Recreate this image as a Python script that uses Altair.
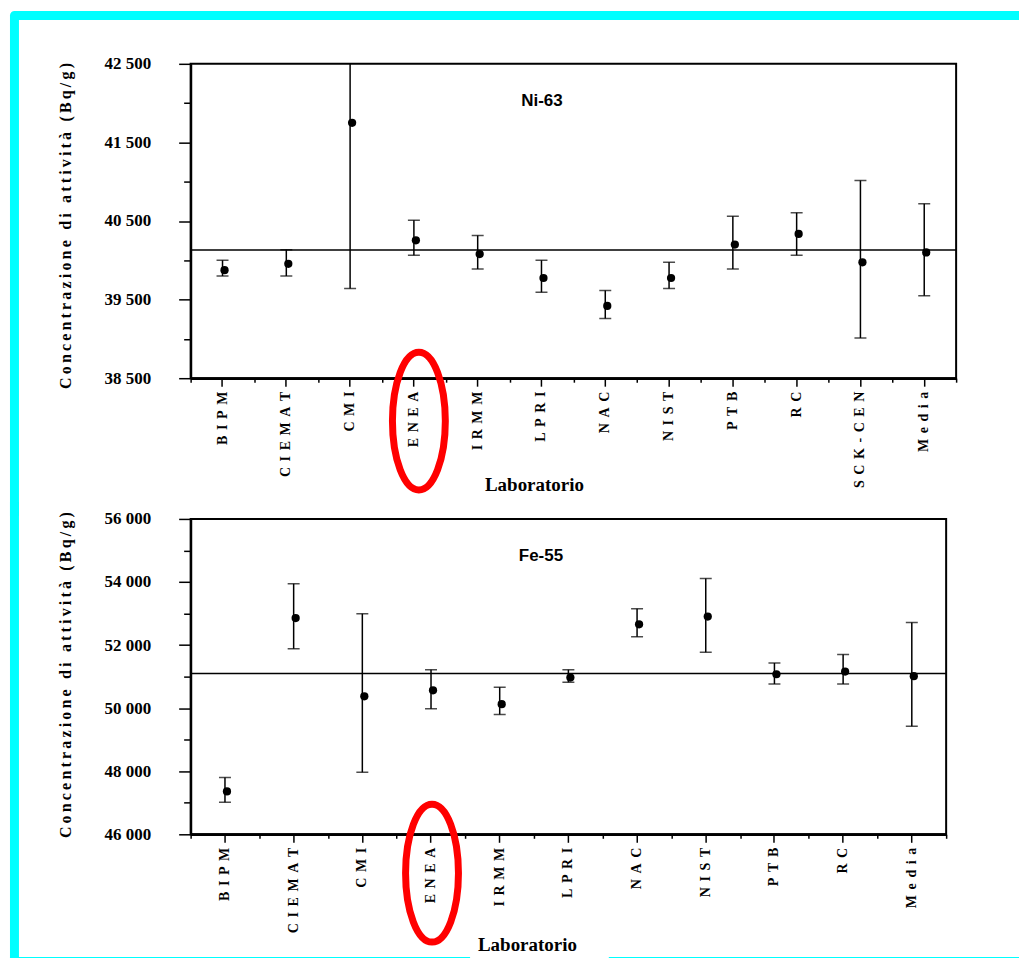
import altair as alt
import pandas as pd

# ---------------- data ----------------
ni_labs = ["BIPM", "CIEMAT", "CMI", "ENEA", "IRMM", "LPRI", "NAC", "NIST", "PTB", "RC", "SCK-CEN", "Media"]
ni_val = [39875, 39955, 41750, 40255, 40080, 39775, 39420, 39775, 40200, 40335, 39975, 40100]
ni_low = [39800, 39800, 39640, 40065, 39890, 39595, 39260, 39640, 39890, 40065, 39010, 39550]
ni_high = [40000, 40135, 42860, 40510, 40315, 40000, 39615, 39975, 40560, 40605, 41015, 40720]
ni_ref = 40130
ni_major = [38500, 39500, 40500, 41500, 42500]
ni_minor = [39000, 40000, 41000, 42000]

fe_labs = ["BIPM", "CIEMAT", "CMI", "ENEA", "IRMM", "LPRI", "NAC", "NIST", "PTB", "RC", "Media"]
fe_val = [47360, 52855, 50375, 50565, 50125, 50970, 52660, 52905, 51075, 51160, 51015]
fe_low = [47020, 51885, 47970, 49980, 49800, 50820, 52265, 51770, 50765, 50765, 49425]
fe_high = [47805, 53945, 52995, 51220, 50660, 51220, 53155, 54110, 51430, 51705, 52715]
fe_ref = 51100
fe_major = [46000, 48000, 50000, 52000, 54000, 56000]
fe_minor = [47000, 49000, 51000, 53000, 55000]

x_title = "Laboratorio"
y_title = "Concentrazione di attività (Bq/g)"

SERIF = "Liberation Serif"
SANS = "Liberation Sans"
CYAN = "#00FFFF"
RED = "#FF0000"
ELLIPSE = "M -0.384 0 A 0.384 1 0 1 0 0.384 0 A 0.384 1 0 1 0 -0.384 0 Z"

y_title_spaced = "\u2009".join(y_title)
one = pd.DataFrame({"k": [0]})


def band(x1, x2, y1, y2, radius=0):
    return alt.Chart(one).mark_rect(color=CYAN, cornerRadiusTopLeft=radius).encode(
        x=alt.value(x1), x2=alt.value(x2), y=alt.value(y1), y2=alt.value(y2))


def panel(labs, val, low, high, ref, dom, major, minor, w, h, tag, tag_xy,
          xt_xy, yt_xy, ell_y, ell_dx, frames):
    df = pd.DataFrame({"lab": labs, "val": val, "low": low, "high": high})
    xs = alt.Scale(type="band", domain=labs, paddingInner=0, paddingOuter=0)
    ys = alt.Scale(domain=dom, nice=False, zero=False)

    x_main = alt.Axis(orient="bottom", title=x_title, labelAngle=270, labelAlign="right",
                      labelBaseline="middle", labelFont=SERIF, labelFontWeight="bold",
                      labelFontSize=14, labelPadding=5,
                      labelExpr="join(split(datum.label, ''), '\u2009\u2009')",
                      tickSize=8, tickWidth=1.5, domainWidth=2.5,
                      titleFont=SERIF, titleFontWeight="bold", titleFontSize=19,
                      titleX=xt_xy[0], titleY=xt_xy[1], titleAlign="center",
                      titleBaseline="alphabetic", titleAngle=0)
    x_minor = alt.Axis(orient="bottom", title=None, labels=False, tickBand="extent",
                       tickSize=4, tickWidth=1.5, domainWidth=2.5)
    y_main = alt.Axis(orient="left", values=major, title=y_title_spaced,
                      labelFont=SERIF, labelFontWeight="bold", labelFontSize=17,
                      labelPadding=28, tickSize=12, tickWidth=1.5, domainWidth=2,
                      labelExpr="replace(format(datum.value, ','), ',', ' ')",
                      titleFont=SERIF, titleFontWeight="bold", titleFontSize=16,
                      titleX=yt_xy[0], titleY=yt_xy[1], titleAngle=270,
                      titleAlign="center", titleBaseline="middle")
    y_minor = alt.Axis(orient="left", values=minor, title=None, labels=False,
                       tickSize=7, tickWidth=1.5, domainWidth=2)

    base = alt.Chart(df)
    refl = alt.Chart(pd.DataFrame({"ref": [ref]})).mark_rule(color="black", strokeWidth=1.5).encode(
        y=alt.Y("ref:Q", scale=ys, axis=None))
    bars = base.mark_rule(color="black", strokeWidth=1.5, clip=True).encode(
        x=alt.X("lab:N", scale=xs, axis=x_minor),
        y=alt.Y("low:Q", scale=ys, axis=y_minor), y2="high:Q")
    cap_lo = base.mark_tick(color="black", size=12, thickness=1.5, orient="horizontal", clip=True).encode(
        x=alt.X("lab:N", scale=xs, axis=None), y=alt.Y("low:Q", scale=ys, axis=None))
    cap_hi = base.mark_tick(color="black", size=12, thickness=1.5, orient="horizontal", clip=True).encode(
        x=alt.X("lab:N", scale=xs, axis=None), y=alt.Y("high:Q", scale=ys, axis=None))
    pts = base.mark_circle(size=68, color="black", opacity=1, xOffset=2).encode(
        x=alt.X("lab:N", scale=xs, axis=x_main),
        y=alt.Y("val:Q", scale=ys, axis=y_main))
    txt = alt.Chart(one).mark_text(text=tag, font=SANS, fontWeight="bold", fontSize=17,
                                   align="center", baseline="alphabetic", color="black").encode(
        x=alt.value(tag_xy[0]), y=alt.value(tag_xy[1]))
    ell = alt.Chart(pd.DataFrame({"lab": ["ENEA"]})).mark_point(
        shape=ELLIPSE, size=19044, filled=False, color=RED, strokeWidth=7, opacity=1,
        xOffset=ell_dx).encode(
        x=alt.X("lab:N", scale=xs, axis=None), y=alt.value(ell_y))

    layers = [refl, bars, cap_lo, cap_hi, pts, txt, ell] + [band(*f) for f in frames]
    return alt.layer(*layers).resolve_axis(x="independent", y="independent").properties(
        width=w, height=h)


top = panel(ni_labs, ni_val, ni_low, ni_high, ni_ref, [38500, 42500], ni_major, ni_minor,
            767, 315, "Ni-63", (352, 42), (344, 113), (-125, 162), 358, 5,
            [(-181, 830, -53, -44, 6), (-181, -172, -44, 453)])
bottom = panel(fe_labs, fe_val, fe_low, fe_high, fe_ref, [46000, 56000], fe_major, fe_minor,
               757, 316, "Fe-55", (351, 42), (337, 116), (-125, 156), 355, 1,
               [(-181, -172, -17, 441), (-181, 280, 439, 441), (419, 830, 439, 441)])

chart = alt.vconcat(top, bottom, spacing=-16).properties(
    padding={"left": 9, "top": 9, "right": 0, "bottom": 0}
).configure_view(stroke="black", strokeWidth=2).configure_axis(
    grid=False, domainColor="black", tickColor="black", labelColor="black", titleColor="black")

chart.save("out.html", embed_options={"renderer": "svg", "actions": False})
